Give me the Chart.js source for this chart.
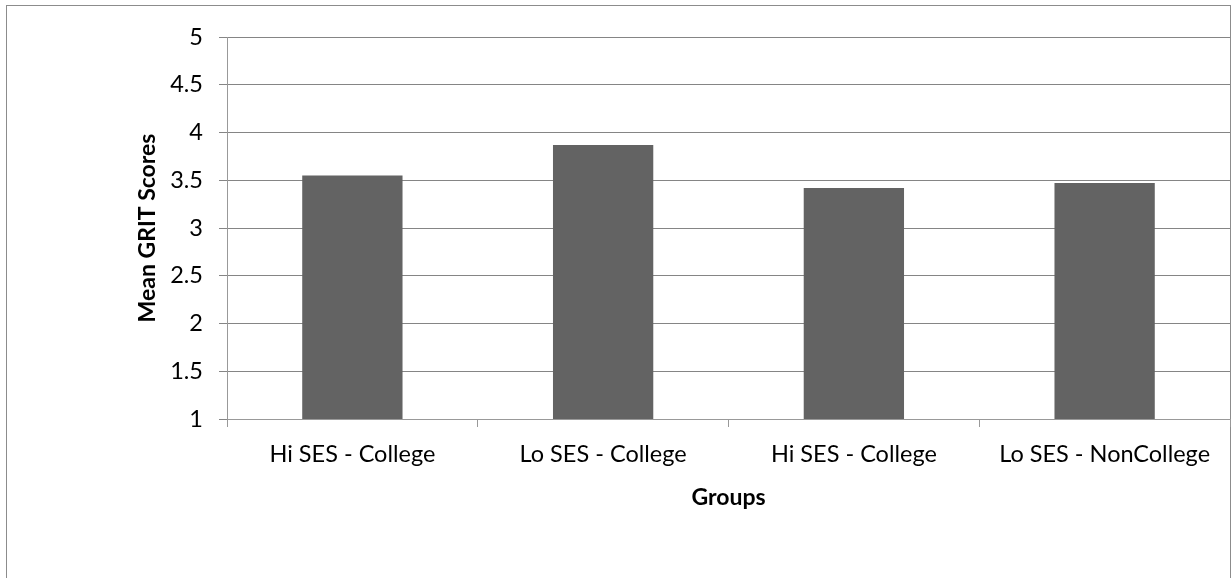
<!DOCTYPE html>
<html>
<head>
<meta charset="utf-8">
<script src="https://cdn.jsdelivr.net/npm/chart.js@4/dist/chart.umd.min.js"></script>
<style>
  html, body { margin: 0; padding: 0; background: #fff; }
  #wrap { width: 1231px; height: 578px; position: relative; }
</style>
</head>
<body>
<div id="wrap"><canvas id="c" width="1231" height="578"></canvas></div>
<script>
// Group labels along the x axis
const groups = ['Hi SES - College', 'Lo SES - College', 'Hi SES - College', 'Lo SES - NonCollege'];
// Mean GRIT score per group
const meanGrit = [3.55, 3.87, 3.42, 3.47];
// Value axis range and step
const yMin = 1, yMax = 5, yStep = 0.5;

const FONT = 'Lato, "Open Sans", "DejaVu Sans", sans-serif';

// Frame around the whole chart
const framePlugin = {
  id: 'frame',
  beforeDraw(chart) {
    const ctx = chart.ctx;
    ctx.save();
    ctx.fillStyle = '#ffffff';
    ctx.fillRect(0, 0, chart.width, chart.height);
    ctx.strokeStyle = '#8c8c8c';
    ctx.lineWidth = 1;
    ctx.strokeRect(6.5, 5.5, 1224, 600);
    ctx.restore();
  }
};

new Chart(document.getElementById('c'), {
  type: 'bar',
  data: {
    labels: groups,
    datasets: [{
      data: meanGrit,
      backgroundColor: '#636363',
      borderWidth: 0,
      barPercentage: 0.4,
      categoryPercentage: 1.0
    }]
  },
  options: {
    responsive: false,
    animation: false,
    devicePixelRatio: 1,
    layout: { padding: { left: 0, top: 37, right: 1, bottom: 0 } },
    plugins: {
      legend: { display: false },
      tooltip: { enabled: false }
    },
    scales: {
      x: {
        offset: true,
        grid: {
          offset: true,
          drawOnChartArea: false,
          drawTicks: true,
          tickLength: 8,
          color: '#999999'
        },
        border: { color: '#999999', width: 1 },
        ticks: {
          color: '#000',
          font: { family: FONT, size: 23.5 },
          padding: 13,
          maxRotation: 0,
          autoSkip: false
        },
        title: {
          display: true,
          text: 'Groups',
          color: '#000',
          font: { family: FONT, size: 23, weight: 'bold' },
          padding: { top: 0, bottom: 67 }
        },
        afterFit(scale) { scale.height = 159; }
      },
      y: {
        min: yMin,
        max: yMax,
        ticks: {
          stepSize: yStep,
          color: '#000',
          font: { family: FONT, size: 23.5 },
          padding: 16,
          callback: (v) => String(v)
        },
        grid: {
          color: '#858585',
          lineWidth: 1,
          drawTicks: true,
          tickLength: 8
        },
        border: { color: '#999999', width: 1 },
        title: {
          display: true,
          text: 'Mean GRIT Scores',
          color: '#000',
          font: { family: FONT, size: 23, weight: 'bold' },
          padding: { top: 134, bottom: 0 }
        },
        afterFit(scale) { scale.width = 227; }
      }
    }
  },
  plugins: [framePlugin]
});
</script>
</body>
</html>
